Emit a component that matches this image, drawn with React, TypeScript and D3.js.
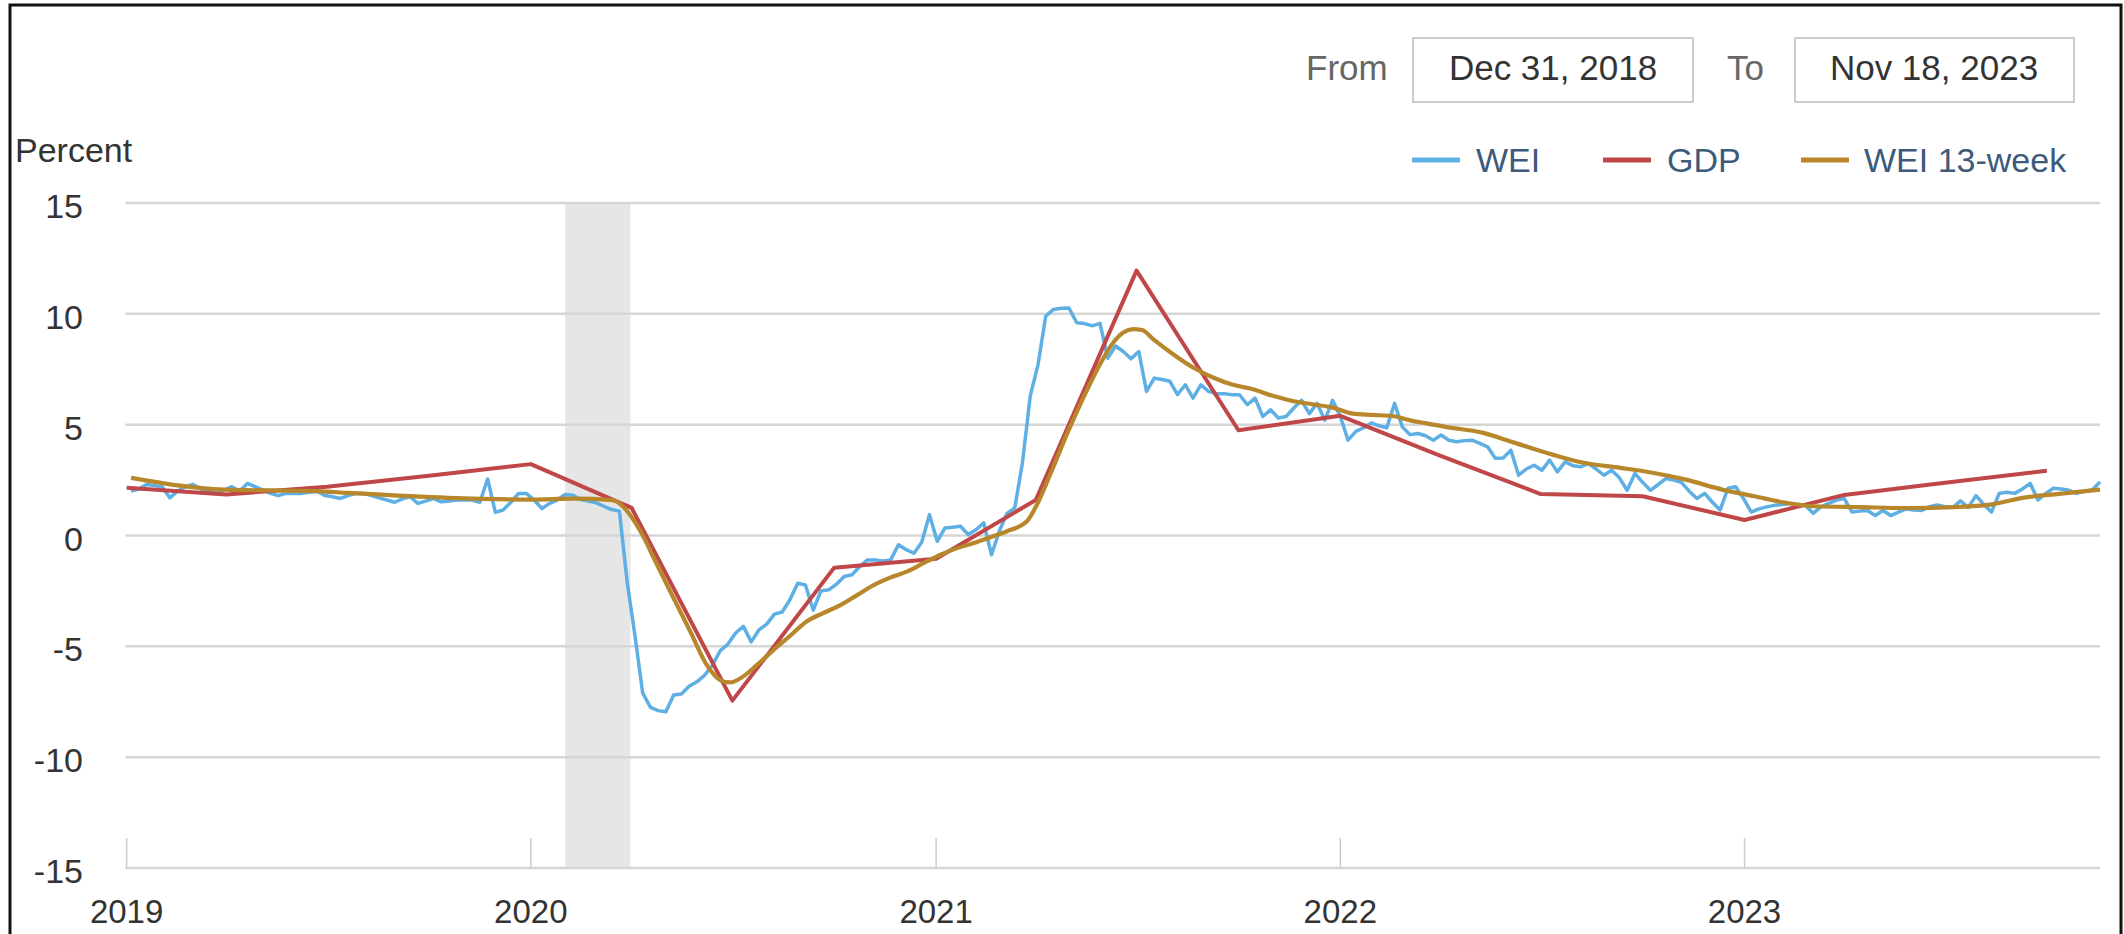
import React from "react";
import * as d3 from "d3";

const parse = d3.utcParse("%Y-%m-%d");

// ---- Data ----
const domainStart = "2018-12-31";
const domainEnd = "2023-11-18";
const recessionBand = ["2020-02-01", "2020-03-31"];

const weiStart = "2019-01-05"; // weekly, Saturdays
const weiValues = [
  2.0, 2.1, 2.3, 2.25, 2.2, 1.7, 2.0, 2.2, 2.3, 2.1,
  2.0, 1.9, 2.05, 2.2, 2.0, 2.35, 2.2, 2.05, 1.9, 1.8,
  1.9, 1.9, 1.9, 1.95, 2.0, 1.8, 1.75, 1.67, 1.8, 1.9,
  1.9, 1.8, 1.7, 1.6, 1.5, 1.65, 1.75, 1.45, 1.55, 1.67,
  1.52, 1.55, 1.6, 1.6, 1.6, 1.5, 2.55, 1.04, 1.15, 1.5,
  1.9, 1.9, 1.6, 1.22, 1.45, 1.6, 1.85, 1.82, 1.62, 1.55,
  1.47, 1.32, 1.17, 1.1, -2.1, -4.5, -7.1, -7.75, -7.9, -7.95,
  -7.2, -7.15, -6.8, -6.6, -6.3, -5.85, -5.2, -4.9, -4.4, -4.1,
  -4.8, -4.26, -4.0, -3.55, -3.45, -2.9, -2.15, -2.23, -3.36, -2.5,
  -2.45, -2.2, -1.85, -1.77, -1.4, -1.1, -1.1, -1.15, -1.1, -0.42,
  -0.64, -0.8, -0.3, 0.94, -0.26, 0.34, 0.37, 0.42, 0.04, 0.26,
  0.57, -0.87, 0.19, 1.0, 1.24, 3.3, 6.3, 7.7, 9.9, 10.2,
  10.25, 10.26, 9.6, 9.56, 9.46, 9.57, 8.0, 8.55, 8.3, 7.97,
  8.3, 6.5, 7.1, 7.04, 6.96, 6.36, 6.8, 6.2, 6.8, 6.5,
  6.4, 6.4, 6.35, 6.35, 5.9, 6.2, 5.37, 5.67, 5.3, 5.37,
  5.75, 6.1, 5.5, 5.96, 5.2, 6.1, 5.37, 4.3, 4.7, 4.86,
  5.08, 4.95, 4.86, 5.96, 4.9, 4.55, 4.6, 4.5, 4.3, 4.53,
  4.3, 4.23, 4.28, 4.3, 4.16, 4.0, 3.48, 3.5, 3.85, 2.72,
  3.0, 3.17, 2.94, 3.4, 2.87, 3.32, 3.15, 3.1, 3.25, 3.0,
  2.72, 2.94, 2.6, 2.04, 2.8, 2.4, 2.04, 2.3, 2.57, 2.5,
  2.4, 2.0, 1.67, 1.9, 1.5, 1.15, 2.13, 2.2, 1.67, 1.06,
  1.2, 1.29, 1.36, 1.4, 1.44, 1.4, 1.36, 1.0, 1.29, 1.45,
  1.6, 1.67, 1.06, 1.1, 1.13, 0.9, 1.13, 0.9, 1.05, 1.2,
  1.15, 1.13, 1.3, 1.38, 1.3, 1.27, 1.56, 1.27, 1.8, 1.4,
  1.06, 1.9, 1.95, 1.9, 2.1, 2.35, 1.6, 1.9, 2.13, 2.1,
  2.04, 1.9, 2.0, 2.05, 2.42,
];

const gdpDates = [
  "2019-01-01", "2019-04-01", "2019-07-01", "2019-10-01",
  "2020-01-01", "2020-04-01", "2020-07-01", "2020-10-01",
  "2021-01-01", "2021-04-01", "2021-07-01", "2021-10-01",
  "2022-01-01", "2022-04-01", "2022-07-01", "2022-10-01",
  "2023-01-01", "2023-04-01", "2023-07-01", "2023-10-01",
];
const gdpValues = [
  2.15, 1.85, 2.2, 2.7,
  3.22, 1.25, -7.45, -1.45,
  -1.05, 1.6, 11.95, 4.75,
  5.4, 3.6, 1.87, 1.77,
  0.7, 1.83, 2.38, 2.92,
];

const wei13Dates = [
  "2019-01-05", "2019-03-30", "2019-06-22", "2019-07-20", "2019-10-18",
  "2020-01-02", "2020-02-09", "2020-03-15", "2020-03-28", "2020-04-09",
  "2020-04-24", "2020-05-09", "2020-05-24", "2020-06-08", "2020-06-20",
  "2020-06-29", "2020-07-08", "2020-07-23", "2020-08-07", "2020-08-23",
  "2020-09-06", "2020-09-21", "2020-10-07", "2020-10-22", "2020-11-06",
  "2020-11-21", "2020-12-06", "2020-12-21", "2021-01-05", "2021-01-20",
  "2021-02-04", "2021-02-19", "2021-03-06", "2021-03-24", "2021-04-02",
  "2021-04-14", "2021-04-29", "2021-05-14", "2021-05-29", "2021-06-10",
  "2021-06-19", "2021-06-28", "2021-07-06", "2021-07-16", "2021-08-03",
  "2021-08-21", "2021-09-08", "2021-09-26", "2021-10-14", "2021-11-01",
  "2021-11-19", "2021-12-07", "2021-12-25", "2022-01-12", "2022-01-30",
  "2022-02-17", "2022-03-07", "2022-03-21", "2022-04-06", "2022-05-09",
  "2022-06-07", "2022-07-11", "2022-08-09", "2022-09-11", "2022-10-10",
  "2022-11-09", "2022-12-12", "2023-01-10", "2023-02-08", "2023-03-05",
  "2023-04-16", "2023-05-28", "2023-07-09", "2023-08-11", "2023-09-09",
  "2023-10-12", "2023-11-18",
];
const wei13Values = [
  2.6, 2.07, 2.0, 1.92, 1.7,
  1.62, 1.66, 1.6, 1.1, 0.19,
  -1.32, -2.83, -4.33, -5.85, -6.52,
  -6.63, -6.45, -5.85, -5.17, -4.49,
  -3.88, -3.5, -3.13, -2.68, -2.23,
  -1.89, -1.62, -1.24, -0.87, -0.57,
  -0.34, -0.08, 0.19, 0.64, 1.39,
  2.75, 4.56, 6.22, 7.73, 8.71,
  9.16, 9.31, 9.27, 8.86, 8.18,
  7.58, 7.13, 6.8, 6.6, 6.3,
  6.07, 5.92, 5.77, 5.5, 5.44,
  5.39, 5.17, 5.05, 4.9, 4.64,
  4.19, 3.66, 3.28, 3.05, 2.83,
  2.52, 2.07, 1.77, 1.47, 1.32,
  1.28, 1.24, 1.28, 1.39, 1.7,
  1.88, 2.07,
];

const yTicks = [-15, -10, -5, 0, 5, 10, 15];
const xTickYears = [2019, 2020, 2021, 2022, 2023];
const seriesNames = ["WEI", "GDP", "WEI 13-week"];
const seriesColors = ["#5eafe3", "#bf4747", "#b8872c"];
const fromLabel = "Dec 31, 2018";
const toLabel = "Nov 18, 2023";

const FONT = "'Liberation Sans', Arial, Helvetica, sans-serif";

export default function App() {
  const W = 2124;
  const H = 934;
  const x = d3
    .scaleUtc()
    .domain([parse(domainStart)!, parse(domainEnd)!])
    .range([125.5, 2100]);
  const y = d3.scaleLinear().domain([-15, 15]).range([868, 203]);

  const weiStartDate = parse(weiStart)!;
  const wei = weiValues.map((v, i) => ({ d: d3.utcDay.offset(weiStartDate, 7 * i), v }));
  const gdp = gdpDates.map((s, i) => ({ d: parse(s)!, v: gdpValues[i] }));
  const wei13 = wei13Dates.map((s, i) => ({ d: parse(s)!, v: wei13Values[i] }));

  const lineLinear = d3
    .line<{ d: Date; v: number }>()
    .x((p) => x(p.d))
    .y((p) => y(p.v));
  const lineSmooth = d3
    .line<{ d: Date; v: number }>()
    .x((p) => x(p.d))
    .y((p) => y(p.v))
    .curve(d3.curveMonotoneX);

  const x0 = x.range()[0];
  const x1 = x.range()[1];
  const bandX0 = x(parse(recessionBand[0])!);
  const bandX1 = x(parse(recessionBand[1])!);

  const legendItems = [
    { lx: 1412, tx: 1476 },
    { lx: 1603, tx: 1667 },
    { lx: 1801, tx: 1864 },
  ];

  return (
    <svg
      width={W}
      height={H}
      style={{ position: "absolute", left: 0, top: 0, background: "#fff" }}
      fontFamily={FONT}
    >
      <rect x={0} y={0} width={W} height={H} fill="#fff" />
      {/* frame */}
      <path d={`M10,${H + 5} L10,5 L2121,5 L2121,${H + 5}`} fill="none" stroke="#111" strokeWidth={3} />

      {/* recession band */}
      <rect x={bandX0} y={y(15)} width={bandX1 - bandX0} height={y(-15) - y(15)} fill="#e6e6e6" />

      {/* gridlines */}
      {yTicks.map((t) => (
        <line key={t} x1={x0} x2={x1} y1={y(t)} y2={y(t)} stroke="#d6d6d6" strokeWidth={2.5} />
      ))}

      {/* x ticks */}
      {xTickYears.map((yr) => {
        const xx = x(Date.UTC(yr, 0, 1));
        return (
          <g key={yr}>
            <line x1={xx} x2={xx} y1={y(-15) - 30} y2={y(-15)} stroke="#cccccc" strokeWidth={1.5} />
            <text x={xx} y={923} textAnchor="middle" fontSize={33} fill="#333">
              {yr}
            </text>
          </g>
        );
      })}

      {/* y labels */}
      {yTicks.map((t) => (
        <text key={t} x={83} y={y(t) + 15} textAnchor="end" fontSize={34} fill="#333">
          {t}
        </text>
      ))}
      <text x={15} y={162} fontSize={34} fill="#333">
        Percent
      </text>

      {/* series */}
      <path d={lineLinear(wei) || ""} fill="none" stroke={seriesColors[0]} strokeWidth={3.5} strokeLinejoin="round" />
      <path d={lineLinear(gdp) || ""} fill="none" stroke={seriesColors[1]} strokeWidth={4} strokeLinejoin="round" />
      <path d={lineSmooth(wei13) || ""} fill="none" stroke={seriesColors[2]} strokeWidth={4.2} strokeLinejoin="round" />

      {/* date range inputs */}
      <text x={1306} y={80} fontSize={35} fill="#666">
        From
      </text>
      <rect x={1413} y={38} width={280} height={64} fill="#fff" stroke="#cccccc" strokeWidth={2} />
      <text x={1553} y={80} fontSize={35} fill="#333" textAnchor="middle">
        {fromLabel}
      </text>
      <text x={1727} y={80} fontSize={35} fill="#666">
        To
      </text>
      <rect x={1795} y={38} width={279} height={64} fill="#fff" stroke="#cccccc" strokeWidth={2} />
      <text x={1934} y={80} fontSize={35} fill="#333" textAnchor="middle">
        {toLabel}
      </text>

      {/* legend */}
      {seriesNames.map((name, i) => (
        <g key={name}>
          <line
            x1={legendItems[i].lx}
            x2={legendItems[i].lx + 48}
            y1={160}
            y2={160}
            stroke={seriesColors[i]}
            strokeWidth={5}
          />
          <text x={legendItems[i].tx} y={172} fontSize={34} fill="#3e5a7a">
            {name}
          </text>
        </g>
      ))}
    </svg>
  );
}
